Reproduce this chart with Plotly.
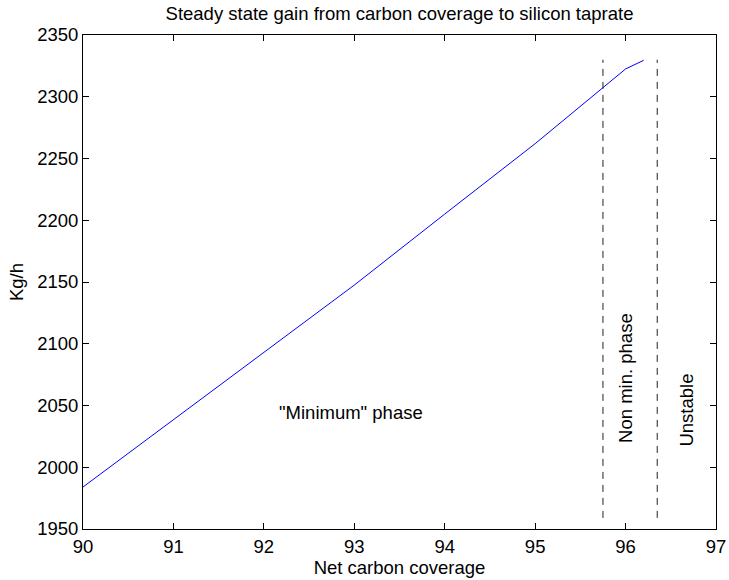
import plotly.graph_objects as go

# Data
coverage = [90, 91, 92, 93, 94, 95, 96, 96.2]
gain = [1984, 2038.5, 2093, 2147.5, 2205, 2262, 2322.5, 2329.5]

boundary_x = [95.75, 96.35]
boundary_y = [1959, 2330]

x_ticks = [90, 91, 92, 93, 94, 95, 96, 97]
y_ticks = [1950, 2000, 2050, 2100, 2150, 2200, 2250, 2300, 2350]

labels = ['"Minimum" phase', 'Non min. phase', 'Unstable']
label_x = [92.14, 96.0, 96.67]
label_y = [2044, 2072, 2046]
label_angle = [0, -90, -90]
label_anchor = ['left', 'center', 'center']

FONT = "Liberation Sans, Arial, Helvetica, sans-serif"
FS = 18.5

fig = go.Figure()
fig.add_trace(go.Scatter(x=coverage, y=gain, mode="lines",
                         line=dict(color="#0000ff", width=1), showlegend=False))
for bx in boundary_x:
    fig.add_trace(go.Scatter(x=[bx, bx], y=boundary_y, mode="lines",
                             line=dict(color="#222222", width=1, dash="7px,6px"),
                             showlegend=False))

for t, xx, yy, a, anc in zip(labels, label_x, label_y, label_angle, label_anchor):
    fig.add_annotation(x=xx, y=yy, text=t, showarrow=False, textangle=a,
                       xanchor=anc, yanchor="middle",
                       font=dict(family=FONT, size=FS, color="black"))

fig.update_layout(
    width=729, height=580,
    margin=dict(l=83, r=13, t=35, b=51),
    paper_bgcolor="white", plot_bgcolor="white",
    font=dict(family=FONT, size=FS, color="black"),
    title=dict(text="Steady state gain from carbon coverage to silicon taprate",
               x=(83 + 716) / 2 / 729, xanchor="center",
               y=1 - 14 / 580, yanchor="middle",
               font=dict(family=FONT, size=FS, color="black")),
)
fig.update_xaxes(range=[90, 97], tickvals=x_ticks, ticks="inside", ticklen=6,
                 tickcolor="black", showline=True, linecolor="black", linewidth=1,
                 mirror="ticks", showgrid=False, zeroline=False, automargin=False,
                 ticklabelstandoff=1,
                 title=dict(text="Net carbon coverage", standoff=0,
                            font=dict(family=FONT, size=FS)))
fig.update_yaxes(range=[1950, 2350], tickvals=y_ticks, ticks="inside", ticklen=6,
                 tickcolor="black", showline=True, linecolor="black", linewidth=1,
                 mirror="ticks", showgrid=False, zeroline=False, automargin=False,
                 title=dict(text="Kg/h", standoff=8,
                            font=dict(family=FONT, size=FS)))

fig.write_html("out.html")
